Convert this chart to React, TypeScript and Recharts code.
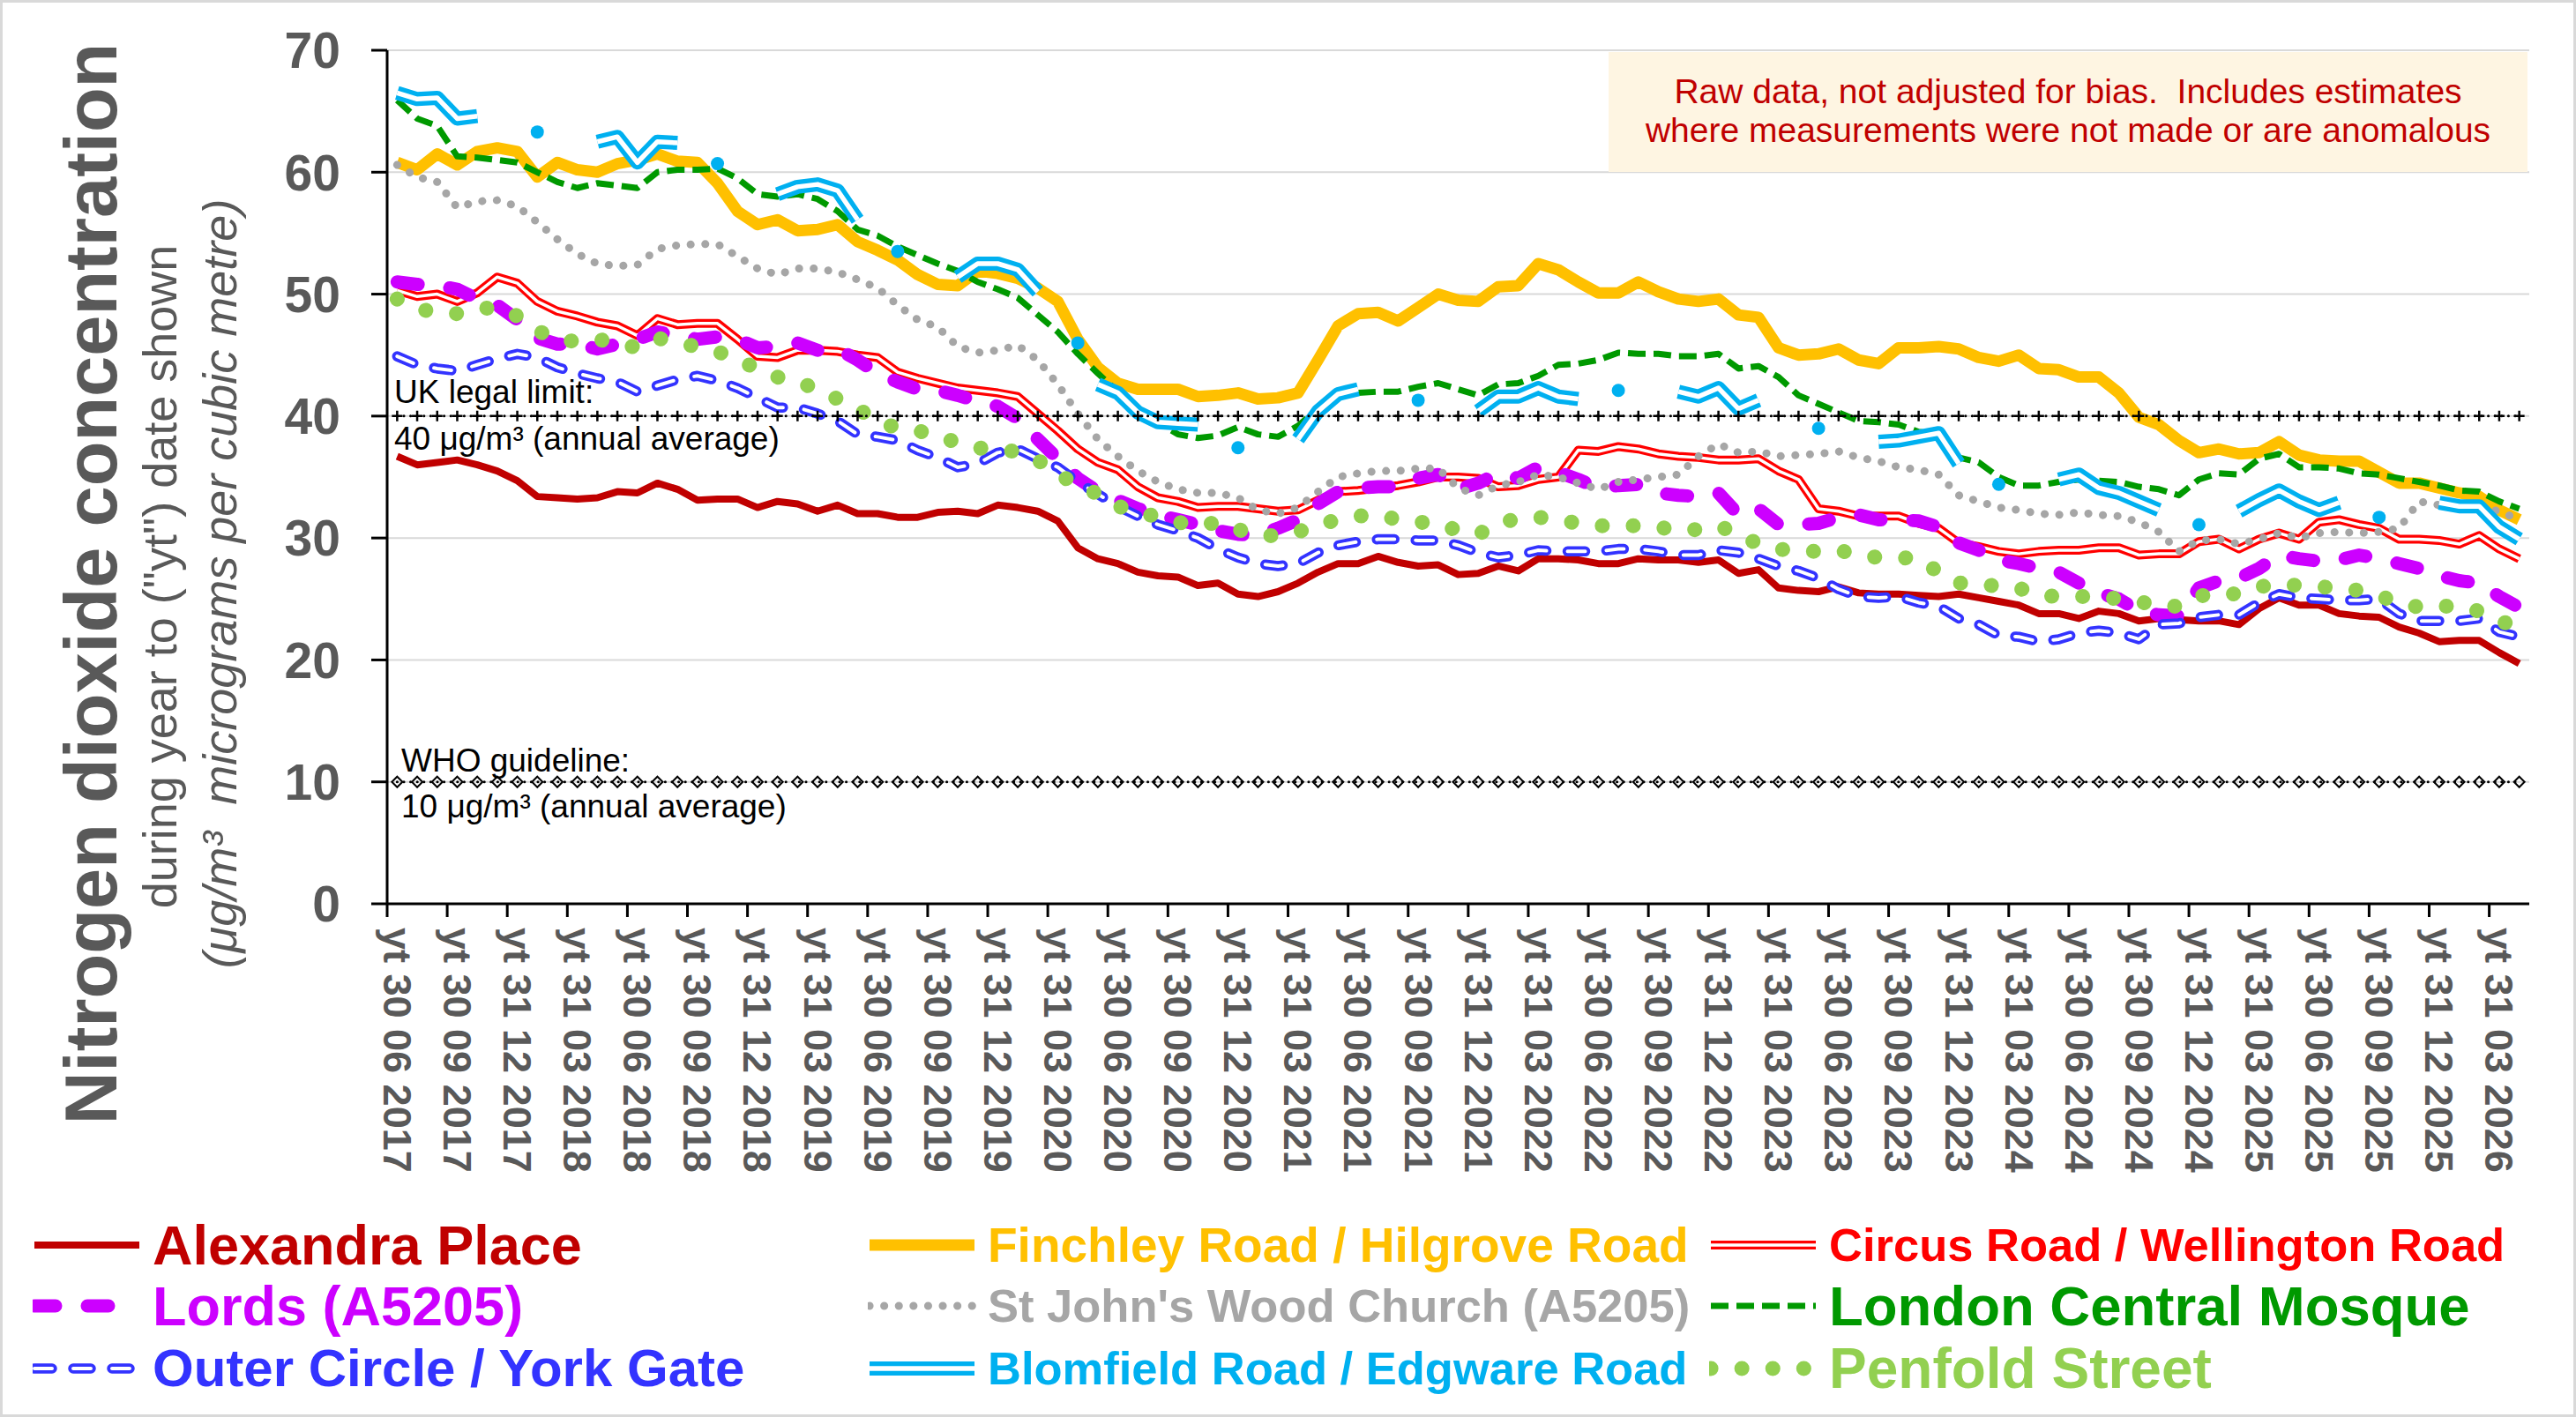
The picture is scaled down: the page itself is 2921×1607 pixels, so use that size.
import React from 'react';
import { LineChart, Line, XAxis, YAxis, CartesianGrid, ReferenceLine } from 'recharts';

const W = 2921;
const H = 1607;
const PLOT_L = 439;
const PLOT_R = 2868;
const PLOT_T = 57;
const PLOT_B = 1025;
const N = 107;
const BAND = (PLOT_R - PLOT_L) / N;
const FONT = "'Liberation Sans', Arial, Helvetica, sans-serif";
const AXIS_GREY = '#595959';

// ---------- categories (year-to dates, month ends from June 2017) ----------
const MONTH_END = [31, 28, 31, 30, 31, 30, 31, 31, 30, 31, 30, 31];
const categories: string[] = [];
for (let k = 0; k < N; k++) {
  const m = (5 + k) % 12;
  const y = 2017 + Math.floor((5 + k) / 12);
  const d = m === 1 && y % 4 === 0 ? 29 : MONTH_END[m];
  categories.push(`yt ${d} ${String(m + 1).padStart(2, '0')} ${y}`);
}

const yTicks = [0, 10, 20, 30, 40, 50, 60, 70];
const UK_LIMIT = 40;
const WHO_GUIDE = 10;

// ---------- series values ----------
const alexandra = [
  36.7, 36.0, 36.2, 36.4, 36.0, 35.5, 34.7, 33.4, 33.3, 33.2,
  33.3, 33.8, 33.7, 34.5, 34.0, 33.1, 33.2, 33.2, 32.5, 33.0,
  32.8, 32.2, 32.7, 32.0, 32.0, 31.7, 31.7, 32.1, 32.2, 32.0,
  32.7, 32.5, 32.2, 31.4, 29.2, 28.3, 27.9, 27.2, 26.9, 26.8,
  26.1, 26.3, 25.4, 25.2, 25.6, 26.3, 27.2, 27.9, 27.9, 28.5,
  28.0, 27.7, 27.8, 27.0, 27.1, 27.7, 27.3, 28.3, 28.3, 28.2,
  27.9, 27.9, 28.3, 28.2, 28.2, 28.0, 28.2, 27.1, 27.4, 25.9,
  25.7, 25.6, 26.0, 25.5, 25.4, 25.4, 25.3, 25.2, 25.4, 25.1,
  24.8, 24.5, 23.8, 23.8, 23.4, 24.0, 23.8, 23.2, 23.4, 23.3,
  23.2, 23.2, 22.9, 24.2, 25.1, 24.5, 24.5, 23.8, 23.6, 23.5,
  22.7, 22.2, 21.5, 21.6, 21.6, 20.6, 19.7,
];

const finchley = [
  60.8, 60.2, 61.5, 60.6, 61.7, 62.0, 61.7, 59.6, 60.8, 60.2,
  60.0, 60.7, 61.0, 61.5, 60.9, 60.8, 59.1, 56.8, 55.7, 56.1,
  55.2, 55.3, 55.7, 54.3, 53.6, 52.8, 51.6, 50.8, 50.7, 51.9,
  51.7, 51.3, 50.5, 49.4, 46.3, 44.0, 42.7, 42.2, 42.2, 42.2,
  41.6, 41.7, 41.9, 41.4, 41.5, 41.9, 44.6, 47.4, 48.4, 48.5,
  47.8, 48.9, 50.0, 49.5, 49.4, 50.6, 50.7, 52.5, 52.0, 51.0,
  50.1, 50.1, 51.0, 50.2, 49.6, 49.4, 49.6, 48.3, 48.1, 45.6,
  45.0, 45.1, 45.5, 44.6, 44.3, 45.6, 45.6, 45.7, 45.5, 44.8,
  44.5, 45.0, 43.9, 43.8, 43.2, 43.2, 41.9, 39.9, 39.3, 38.0,
  37.0, 37.3, 36.9, 37.0, 37.9, 36.8, 36.4, 36.3, 36.3, 35.4,
  34.5, 34.5, 34.1, 33.7, 33.4, 32.3, 31.5,
];

const circus = [
  50.3, 49.8, 50.0, 49.4, 50.1, 51.4, 50.9, 49.4, 48.6, 48.2,
  47.7, 47.4, 46.6, 48.0, 47.5, 47.6, 47.6, 46.3, 44.9, 44.8,
  45.4, 45.4, 45.3, 45.0, 44.8, 43.6, 43.1, 42.7, 42.3, 42.1,
  41.9, 41.6, 40.2, 38.8, 37.3, 36.2, 35.6, 34.2, 33.3, 33.0,
  32.5, 32.6, 32.6, 32.4, 32.2, 32.3, 33.1, 33.8, 33.9, 34.1,
  34.3, 34.6, 35.0, 35.0, 34.9, 34.2, 34.3, 34.8, 35.0, 37.2,
  37.1, 37.5, 37.3, 36.9, 36.7, 36.6, 36.4, 36.4, 36.5, 35.5,
  34.8, 32.4, 32.2, 31.8, 31.8, 31.8, 31.2, 30.8, 29.6, 29.3,
  28.9, 28.7, 28.9, 29.0, 29.0, 29.2, 29.2, 28.6, 28.7, 28.7,
  29.7, 29.9, 29.1, 29.9, 30.4, 29.9, 31.3, 31.5, 31.1, 30.8,
  29.9, 29.9, 29.8, 29.5, 30.2, 29.1, 28.3,
];

const lords = [
  51.0, 50.8, 50.7, 50.4, 49.6, 49.1, 47.9, 46.4, 45.9, 45.9,
  45.5, 45.9, 46.3, 46.9, 46.6, 46.3, 46.5, 46.3, 45.6, 45.7,
  46.0, 45.4, 45.5, 44.6, 43.5, 42.8, 42.2, 42.1, 41.7, 41.2,
  40.8, 39.8, 38.1, 36.5, 34.9, 33.8, 33.1, 32.4, 31.9, 31.5,
  31.1, 30.6, 30.3, 30.2, 30.8, 31.5, 32.8, 33.8, 34.1, 34.2,
  34.2, 34.9, 35.2, 34.0, 34.5, 35.3, 34.9, 35.8, 35.4, 34.8,
  34.1, 34.3, 34.4, 33.7, 33.5, 33.4, 33.7, 31.9, 32.4, 31.1,
  31.1, 31.2, 31.7, 31.9, 31.5, 31.5, 31.4, 30.9, 29.6, 29.0,
  28.2, 27.9, 27.5, 27.2, 26.3, 25.5, 25.0, 24.0, 23.7, 23.6,
  25.9, 26.5, 26.7, 27.5, 28.6, 28.3, 28.1, 28.2, 28.6, 28.3,
  27.9, 27.5, 26.9, 26.5, 26.3, 25.2, 24.3,
];

const stJohns = [
  60.6, 59.6, 59.2, 57.1, 57.6, 57.7, 57.2, 55.9, 54.5, 53.3,
  52.5, 52.3, 52.4, 53.7, 54.0, 54.1, 54.1, 53.1, 52.1, 51.6,
  52.1, 52.1, 51.8, 51.2, 50.5, 49.1, 47.9, 47.3, 45.7, 45.2,
  45.4, 45.8, 44.6, 42.6, 40.2, 38.1, 36.7, 35.5, 34.6, 34.0,
  33.7, 33.7, 33.3, 32.3, 32.0, 32.5, 33.8, 35.0, 35.3, 35.5,
  35.5, 35.7, 35.7, 34.1, 33.5, 34.3, 34.6, 35.2, 35.0, 34.5,
  34.0, 34.6, 34.8, 35.0, 35.2, 36.7, 37.7, 37.0, 37.1, 36.7,
  36.8, 36.9, 37.1, 36.6, 36.3, 35.8, 35.6, 35.2, 33.5, 33.0,
  32.5, 32.3, 32.0, 31.9, 32.1, 31.9, 31.8, 31.3, 30.5, 28.9,
  29.8, 29.9, 29.5, 29.9, 30.4, 30.0, 30.4, 30.5, 30.4, 30.5,
  30.8, 33.0, 32.7, 32.6, 32.5, 32.2, 31.5,
];

const mosque = [
  65.9, 64.4, 63.8, 61.3, 61.2, 61.0, 60.8, 60.0, 59.2, 58.7,
  59.1, 58.9, 58.7, 60.0, 60.2, 60.2, 60.3, 59.5, 58.2, 58.0,
  58.2, 57.8, 56.8, 55.3, 54.8, 53.9, 53.2, 52.5, 51.9, 51.0,
  50.4, 49.7, 48.3, 46.9, 45.1, 43.5, 42.0, 40.6, 39.5, 38.5,
  38.2, 38.4, 39.1, 38.5, 38.3, 39.2, 40.6, 41.7, 41.9, 42.0,
  42.0, 42.4, 42.7, 42.2, 41.7, 42.6, 42.7, 43.3, 44.2, 44.3,
  44.6, 45.2, 45.1, 45.1, 44.9, 44.9, 45.1, 43.9, 44.1, 43.2,
  41.7, 41.0, 40.3, 39.6, 39.5, 39.3, 38.7, 38.5, 36.6, 36.2,
  35.0, 34.3, 34.3, 34.6, 34.8, 34.7, 34.6, 34.2, 34.0, 33.5,
  34.8, 35.3, 35.2, 36.5, 36.9, 35.8, 35.8, 35.7, 35.3, 35.2,
  34.9, 34.6, 34.3, 33.9, 33.8, 33.0, 32.4,
];

const outerCircle = [
  44.9, 44.2, 43.9, 43.7, 44.2, 44.7, 45.1, 44.8, 44.0, 43.5,
  43.1, 42.8, 42.0, 42.5, 43.0, 43.3, 42.9, 42.3, 41.5, 40.7,
  40.7, 40.2, 39.6, 38.5, 38.3, 38.0, 37.2, 36.6, 35.8, 36.1,
  37.0, 37.3, 36.5, 35.8, 34.6, 33.6, 32.6, 31.8, 31.1, 30.6,
  30.0, 29.1, 28.4, 27.9, 27.7, 27.9, 28.8, 29.4, 29.7, 29.9,
  29.9, 29.8, 29.8, 29.4, 28.8, 28.4, 28.6, 29.0, 28.9, 28.9,
  28.9, 29.1, 29.1, 28.9, 28.6, 28.6, 29.0, 28.8, 28.3, 27.7,
  27.3, 26.7, 25.8, 25.2, 25.1, 25.2, 24.7, 24.4, 23.4, 22.9,
  22.0, 21.9, 21.5, 21.7, 22.2, 22.4, 22.2, 21.7, 22.9, 23.0,
  23.5, 23.7, 23.7, 24.7, 25.4, 25.1, 25.0, 24.9, 24.9, 25.0,
  23.8, 23.2, 23.2, 23.2, 23.4, 22.3, 21.9,
];

const blomfield = [
  66.5, 66.0, 66.1, 64.4, 64.6, null, null, null, null, null,
  62.5, 62.9, 60.8, 62.5, 62.4, null, null, null, null, 58.2,
  58.8, 59.0, 58.5, 56.1, null, null, null, null, 51.4, 52.5,
  52.5, 52.0, 50.2, null, null, 42.6, 41.9, 40.3, 39.5, 39.4,
  39.3, null, null, null, null, 38.1, 40.4, 41.8, 42.2, null,
  null, null, null, null, 40.4, 41.6, 41.6, 42.3, 41.6, 41.4,
  null, null, null, null, 42.0, 41.6, 42.3, 40.6, 41.3, null,
  null, null, null, null, 37.9, 38.0, 38.3, 38.6, 36.1, null,
  null, null, null, 34.8, 35.2, 34.1, 33.7, 33.0, 32.3, null,
  null, null, 32.2, 33.1, 33.9, 33.0, 32.3, 32.9, null, null,
  null, null, 32.9, 32.6, 32.6, 30.9, 29.9,
];

// single isolated Blomfield readings
const blomfieldSingles: (number | null)[] = [
  null, null, null, null, null, null, null, 63.3, null, null,
  null, null, null, null, null, null, 60.7, null, null, null,
  null, null, null, null, null, 53.5, null, null, null, null,
  null, null, null, null, 46.0, null, null, null, null, null,
  null, null, 37.4, null, null, null, null, null, null, null,
  null, 41.3, null, null, null, null, null, null, null, null,
  null, 42.1, null, null, null, null, null, null, null, null,
  null, 39.0, null, null, null, null, null, null, null, null,
  34.4, null, null, null, null, null, null, null, null, null,
  31.1, null, null, null, null, null, null, null, null, 31.7,
  null, null, null, null, null, null, null,
];

const penfold = [
  49.6, 48.8, 48.5, 48.4, 48.8, 48.9, 48.2, 47.0, 46.3, 46.1,
  46.3, 46.0, 45.6, 46.4, 46.0, 45.7, 45.3, 44.6, 43.9, 43.2,
  42.8, 42.2, 41.4, 40.6, 39.6, 39.0, 38.8, 38.4, 37.8, 37.4,
  37.2, 37.1, 36.4, 35.2, 34.4, 33.6, 32.6, 32.2, 31.7, 31.3,
  31.0, 31.3, 30.7, 30.2, 30.2, 30.5, 31.1, 31.5, 31.8, 31.9,
  31.5, 31.3, 31.2, 30.6, 30.3, 31.2, 31.6, 31.7, 31.5, 31.2,
  31.0, 31.0, 31.0, 30.9, 30.6, 30.7, 31.0, 30.3, 29.5, 29.1,
  28.9, 28.9, 29.0, 28.6, 28.4, 28.4, 28.3, 27.2, 26.3, 26.3,
  26.0, 25.9, 25.3, 25.2, 25.2, 25.2, 25.0, 24.8, 24.4, 24.4,
  25.3, 25.2, 25.5, 26.0, 26.2, 26.1, 26.0, 25.9, 25.7, 25.2,
  24.8, 24.3, 24.4, 24.4, 24.0, 23.2, 22.7,
];

// ---------- series styling ----------
type SeriesDef = {
  key: string;
  name: string;
  color: string;
  width: number;
  dash?: string;
  cap?: 'round' | 'butt';
  inner?: number;
  legendSize: number;
};

const SERIES: SeriesDef[] = [
  { key: 'ap', name: 'Alexandra Place', color: '#C00000', width: 8, legendSize: 63 },
  { key: 'fr', name: 'Finchley Road / Hilgrove Road', color: '#FFC000', width: 13, legendSize: 55 },
  { key: 'cr', name: 'Circus Road / Wellington Road', color: '#FF0000', width: 10, inner: 3.5, legendSize: 52.5 },
  { key: 'ld', name: 'Lords (A5205)', color: '#CC00FF', width: 15, dash: '24 36', cap: 'round', legendSize: 63 },
  { key: 'sj', name: "St John's Wood Church (A5205)", color: '#A6A6A6', width: 9, dash: '0.1 16.5', cap: 'round', legendSize: 52.5 },
  { key: 'mq', name: 'London Central Mosque', color: '#009900', width: 7, dash: '20 9', legendSize: 63.5 },
  { key: 'oc', name: 'Outer Circle / York Gate', color: '#3333FF', width: 11.5, dash: '20 24', cap: 'round', inner: 4, legendSize: 60 },
  { key: 'br', name: 'Blomfield Road / Edgware Road', color: '#00B0F0', width: 16, inner: 5.5, legendSize: 52.5 },
  { key: 'pf', name: 'Penfold Street', color: '#92D050', width: 17, dash: '0.1 35', cap: 'round', legendSize: 64 },
];

const data = categories.map((cat, i) => ({
  cat,
  ap: alexandra[i],
  fr: finchley[i],
  cr: circus[i],
  ld: lords[i],
  sj: stJohns[i],
  mq: mosque[i],
  oc: outerCircle[i],
  br: blomfield[i],
  brs: blomfieldSingles[i],
  pf: penfold[i],
}));

// ---------- axis tick renderers ----------
const XTick = (props: any) => {
  const { x, y, payload } = props;
  const bx = x - BAND / 2;
  return (
    <g>
      <line x1={bx} x2={bx} y1={y - 27} y2={y - 12} stroke="#000" strokeWidth={3} />
      <text
        x={x}
        y={y}
        transform={`rotate(90, ${x}, ${y})`}
        textAnchor="start"
        dominantBaseline="central"
        fill={AXIS_GREY}
        fontSize={45}
        fontWeight="bold"
        fontFamily={FONT}
      >
        {payload.value}
      </text>
    </g>
  );
};

const LimitLabel = (props: any) => {
  const { viewBox, top, bottom, dx, upGap, downGap } = props;
  const vx = viewBox?.x ?? PLOT_L;
  const vy = viewBox?.y ?? 0;
  return (
    <g fontFamily={FONT} fontSize={37} fill="#000">
      <text x={vx + dx} y={vy - upGap}>{top}</text>
      <text x={vx + dx} y={vy + downGap} style={{ whiteSpace: 'pre' }}>{bottom}</text>
    </g>
  );
};

const crossDot = (p: any) => {
  if (p.cx == null || p.cy == null) return null;
  return (
    <path
      key={`x${p.index}`}
      d={`M${p.cx - 6},${p.cy}h12M${p.cx},${p.cy - 6}v12`}
      stroke="#000"
      strokeWidth={2.5}
      fill="none"
    />
  );
};

const diamondDot = (p: any) => {
  if (p.cx == null || p.cy == null) return null;
  return (
    <path
      key={`d${p.index}`}
      d={`M${p.cx},${p.cy - 6}l6,6l-6,6l-6,-6z`}
      stroke="#000"
      strokeWidth={2}
      fill="none"
    />
  );
};

const singleDot = (p: any) => {
  if (p.cx == null || p.cy == null || p.value == null) return null;
  return <circle key={`s${p.index}`} cx={p.cx} cy={p.cy} r={7.5} fill="#00B0F0" />;
};

function renderSeries(s: SeriesDef) {
  const common = {
    type: 'linear' as const,
    dataKey: s.key,
    isAnimationActive: false,
    dot: false,
    activeDot: false,
    strokeLinejoin: 'round' as const,
    connectNulls: false,
  };
  const out = [
    <Line
      key={s.key}
      {...common}
      stroke={s.color}
      strokeWidth={s.width}
      strokeDasharray={s.dash}
      strokeLinecap={s.cap ?? 'butt'}
    />,
  ];
  if (s.inner) {
    out.push(
      <Line
        key={s.key + '-in'}
        {...common}
        stroke="#FFFFFF"
        strokeWidth={s.inner}
        strokeDasharray={s.dash}
        strokeLinecap={s.cap ?? 'butt'}
      />
    );
  }
  if (s.key === 'br') {
    out.push(
      <Line
        key="brs"
        type="linear"
        dataKey="brs"
        isAnimationActive={false}
        stroke="none"
        activeDot={false}
        dot={singleDot}
        connectNulls={false}
      />
    );
  }
  return out;
}

// ---------- legend ----------
const LEG_COL_X = [37, 984, 1938];
const LEG_ROW_Y = [1412, 1481, 1552];

const LegendSample = ({ s }: { s: SeriesDef }) => (
  <svg width={124} height={40} style={{ display: 'block', flex: 'none' }}>
    <line x1={2} x2={121} y1={20} y2={20} stroke={s.color} strokeWidth={s.width}
      strokeDasharray={s.dash} strokeLinecap={s.cap ?? 'butt'} />
    {s.inner ? (
      <line x1={2} x2={121} y1={20} y2={20} stroke="#fff" strokeWidth={s.inner}
        strokeDasharray={s.dash} strokeLinecap={s.cap ?? 'butt'} />
    ) : null}
  </svg>
);

export default function App() {
  return (
    <div style={{ position: 'relative', width: W, height: H, background: '#fff', overflow: 'hidden', fontFamily: FONT }}>
      <style>{'body{margin:0;}'}</style>

      <div style={{ position: 'absolute', left: 0, top: 0 }}>
        <LineChart
          width={W}
          height={H}
          data={data}
          margin={{ top: PLOT_T, right: W - PLOT_R, left: PLOT_L - 100, bottom: H - PLOT_B - 100 }}
        >
          <CartesianGrid horizontal vertical={false} stroke="#D9D9D9" strokeWidth={2} />
          <XAxis
            dataKey="cat"
            type="category"
            interval={2}
            height={100}
            tickSize={15}
            tickMargin={12}
            tickLine={false}
            axisLine={{ stroke: '#000', strokeWidth: 3 }}
            tick={<XTick />}
            padding={{ left: BAND / 2, right: BAND / 2 }}
          />
          <YAxis
            width={100}
            domain={[0, 70]}
            ticks={yTicks}
            interval={0}
            tickSize={18}
            tickMargin={35}
            axisLine={{ stroke: '#000', strokeWidth: 3 }}
            tickLine={{ stroke: '#000', strokeWidth: 3 }}
            tick={{ fill: AXIS_GREY, fontSize: 57, fontWeight: 'bold', fontFamily: FONT }}
          />
          {SERIES.flatMap((s) => renderSeries(s))}
          <Line
            type="linear"
            dataKey={() => UK_LIMIT}
            isAnimationActive={false}
            stroke="#000"
            strokeWidth={3}
            strokeDasharray="0.1 7.5"
            strokeLinecap="round"
            activeDot={false}
            dot={crossDot}
          />
          <Line
            type="linear"
            dataKey={() => WHO_GUIDE}
            isAnimationActive={false}
            stroke="#000"
            strokeWidth={3}
            strokeDasharray="0.1 7.5"
            strokeLinecap="round"
            activeDot={false}
            dot={diamondDot}
          />
          <ReferenceLine
            y={UK_LIMIT}
            stroke="none"
            label={<LimitLabel top="UK legal limit:" bottom="40 μg/m³ (annual average)" dx={8} upGap={15} downGap={38} />}
          />
          <ReferenceLine
            y={WHO_GUIDE}
            stroke="none"
            label={<LimitLabel top="WHO guideline:" bottom="10 μg/m³ (annual average)" dx={16} upGap={12} downGap={40} />}
          />
        </LineChart>
      </div>

      {/* axis titles */}
      <svg width={W} height={H} style={{ position: 'absolute', left: 0, top: 0, pointerEvents: 'none' }}>
        <text transform="translate(132,662) rotate(-90)" textAnchor="middle" fontSize={83}
          fontWeight="bold" fill={AXIS_GREY} fontFamily={FONT}>
          Nitrogen dioxide concentration
        </text>
        <text transform="translate(200,654) rotate(-90)" textAnchor="middle" fontSize={54}
          fill={AXIS_GREY} fontFamily={FONT} style={{ whiteSpace: 'pre' }}>
          during year to ("yt") date shown
        </text>
        <text transform="translate(268,662) rotate(-90)" textAnchor="middle" fontSize={54}
          fontStyle="italic" fill={AXIS_GREY} fontFamily={FONT} style={{ whiteSpace: 'pre' }}>
          (μg/m³  micrograms per cubic metre)
        </text>
      </svg>

      {/* note box */}
      <div
        style={{
          position: 'absolute',
          left: 1824,
          top: 59,
          width: 1042,
          height: 136,
          background: '#FEF5E2',
          color: '#C00000',
          fontSize: 39,
          lineHeight: '44px',
          textAlign: 'center',
          whiteSpace: 'pre',
          paddingTop: 23,
          boxSizing: 'border-box',
        }}
      >
        {'Raw data, not adjusted for bias.  Includes estimates\nwhere measurements were not made or are anomalous'}
      </div>

      {/* legend */}
      {SERIES.map((s, k) => {
        const row = Math.floor(k / 3);
        const col = k % 3;
        return (
          <div
            key={s.key}
            style={{
              position: 'absolute',
              left: LEG_COL_X[col],
              top: LEG_ROW_Y[row] - 35,
              height: 70,
              display: 'flex',
              alignItems: 'center',
              whiteSpace: 'nowrap',
            }}
          >
            <LegendSample s={s} />
            <span style={{ marginLeft: 12, color: s.color, fontSize: s.legendSize, fontWeight: 'bold', lineHeight: '70px' }}>
              {s.name}
            </span>
          </div>
        );
      })}

      <div style={{ position: 'absolute', inset: 0, border: '3px solid #D9D9D9', pointerEvents: 'none' }} />
    </div>
  );
}
